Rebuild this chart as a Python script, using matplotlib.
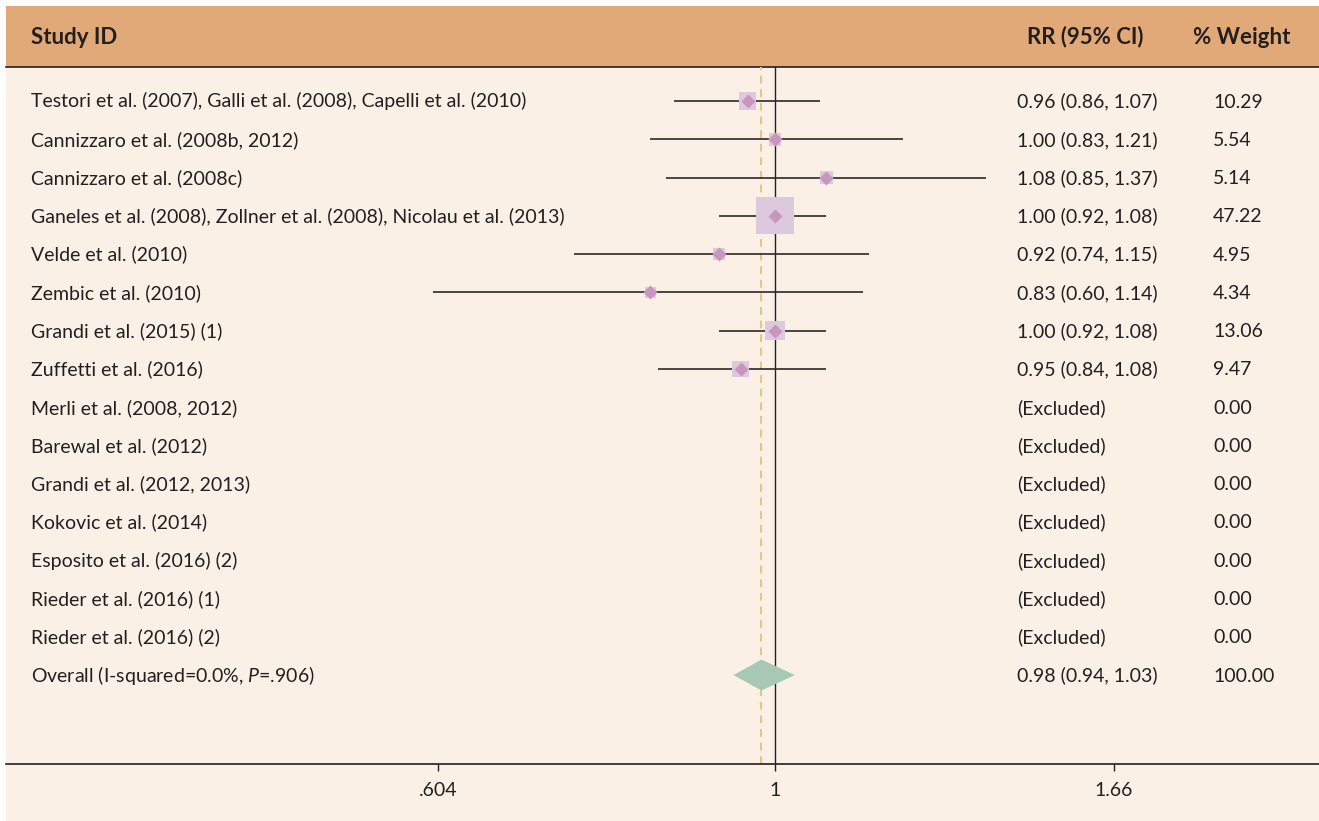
import numpy as np
import matplotlib
matplotlib.use("Agg")
import matplotlib.pyplot as plt
from matplotlib.patches import Rectangle
from matplotlib.lines import Line2D

# ---- data ----
studies = [
    "Testori et al. (2007), Galli et al. (2008), Capelli et al. (2010)",
    "Cannizzaro et al. (2008b, 2012)",
    "Cannizzaro et al. (2008c)",
    "Ganeles et al. (2008), Zollner et al. (2008), Nicolau et al. (2013)",
    "Velde et al. (2010)",
    "Zembic et al. (2010)",
    "Grandi et al. (2015) (1)",
    "Zuffetti et al. (2016)",
    "Merli et al. (2008, 2012)",
    "Barewal et al. (2012)",
    "Grandi et al. (2012, 2013)",
    "Kokovic et al. (2014)",
    "Esposito et al. (2016) (2)",
    "Rieder et al. (2016) (1)",
    "Rieder et al. (2016) (2)",
]
rr = [0.96, 1.00, 1.08, 1.00, 0.92, 0.83, 1.00, 0.95,
      None, None, None, None, None, None, None]
ci_low = [0.86, 0.83, 0.85, 0.92, 0.74, 0.60, 0.92, 0.84,
          None, None, None, None, None, None, None]
ci_high = [1.07, 1.21, 1.37, 1.08, 1.15, 1.14, 1.08, 1.08,
           None, None, None, None, None, None, None]
weights = [10.29, 5.54, 5.14, 47.22, 4.95, 4.34, 13.06, 9.47,
           0.00, 0.00, 0.00, 0.00, 0.00, 0.00, 0.00]

overall_label = "Overall (I-squared=0.0%, $\\mathit{P}$=.906)"
overall_rr, overall_low, overall_high, overall_weight = 0.98, 0.94, 1.03, 100.00

tick_values = [0.604, 1.0, 1.66]
tick_labels = [".604", "1", "1.66"]

# ---- style ----
FONT = "Lato"
plt.rcParams["font.family"] = [FONT, "DejaVu Sans"]
plt.rcParams["mathtext.fontset"] = "custom"
plt.rcParams["mathtext.rm"] = FONT
plt.rcParams["mathtext.it"] = FONT + ":italic"

TEXT = "#231f20"
HEADER = "#e2a978"
PANEL = "#faf0e6"
BOX = "#dec8dd"
POINT = "#c896bc"
POOLED = "#a6c8b4"
REFDASH = "#ebc477"
CI = "#2b2829"

W, H = 1319, 821
fig = plt.figure(figsize=(W / 100, H / 100), dpi=100, facecolor="white")

def fx(px):
    return px / W

def fy(py):
    return 1 - py / H

# panel and header band (drawn beneath the axes)
fig.patches.append(Rectangle((fx(6), 0), 1 - fx(6), fy(67), transform=fig.transFigure,
                             facecolor=PANEL, edgecolor="none", zorder=-2))
fig.patches.append(Rectangle((fx(6), fy(67)), 1 - fx(6), fy(6) - fy(67),
                             transform=fig.transFigure, facecolor=HEADER,
                             edgecolor="none", zorder=-2))
fig.lines.append(Line2D([fx(6), 1], [fy(67), fy(67)], transform=fig.transFigure,
                        color=TEXT, lw=1.2, zorder=-1))

# plotting axes (log-scaled ratio axis)
ax = fig.add_axes([fx(6), fy(764), 1 - fx(6), fy(67) - fy(764)])
ax.set_zorder(1)
ax.patch.set_alpha(0)
ax.set_xscale("log")
px_per_ln = 669.0
ax.set_xlim(np.exp((6 - 775) / px_per_ln), np.exp((W - 775) / px_per_ln))
row_px = 38.27
ax.set_ylim((764 - 101) / row_px, (67 - 101) / row_px)

for s in ("top", "left", "right"):
    ax.spines[s].set_visible(False)
ax.spines["bottom"].set_color(TEXT)
ax.spines["bottom"].set_linewidth(1.2)
ax.set_yticks([])
ax.xaxis.set_minor_locator(matplotlib.ticker.NullLocator())
ax.set_xticks(tick_values)
ax.set_xticklabels(tick_labels)
ax.tick_params(axis="x", direction="out", length=5, width=1, color=TEXT,
               labelcolor=TEXT, labelsize=14, pad=8)

# reference lines
ax.axvline(1.0, color=TEXT, lw=1.0, zorder=1)
ax.axvline(overall_rr, color=REFDASH, lw=1.4, ls=(0, (4, 3)), zorder=1)

ys = np.arange(len(studies))
k = 3.9  # marker side in points per sqrt(weight)
for y, r, lo, hi, w in zip(ys, rr, ci_low, ci_high, weights):
    if r is None:
        continue
    ax.plot([lo, hi], [y, y], color=CI, lw=1.2, zorder=2, solid_capstyle="butt")
    ax.scatter([r], [y], s=(k ** 2) * w, marker="s", color=BOX, edgecolors="none", zorder=3)
    ax.plot([r], [y], marker="D", ms=7, color=POINT, mec="none", zorder=4)

# pooled estimate diamond
y_ov = len(studies)
half_h = 0.405
ax.fill([overall_low, overall_rr, overall_high, overall_rr],
        [y_ov, y_ov - half_h, y_ov, y_ov + half_h],
        color=POOLED, edgecolor="none", zorder=4)

# text columns: baselines sit a fixed distance below each row centre
ytr = ax.get_yaxis_transform()
x_label = (31 - 6) / (W - 6)
x_rr = (1017 - 6) / (W - 6)
x_wt = (1213 - 6) / (W - 6)
fs = 14
base = 6.5 / row_px

def fmt_ci(r, lo, hi):
    return f"{r:.2f} ({lo:.2f}, {hi:.2f})"

def row_text(x, y, s):
    ax.text(x, y + base, s, transform=ytr, ha="left", va="baseline",
            fontsize=fs, color=TEXT)

for y, name, r, lo, hi, w in zip(ys, studies, rr, ci_low, ci_high, weights):
    row_text(x_label, y, name)
    row_text(x_rr, y, "(Excluded)" if r is None else fmt_ci(r, lo, hi))
    row_text(x_wt, y, f"{w:.2f}")

row_text(x_label, y_ov, overall_label)
row_text(x_rr, y_ov, fmt_ci(overall_rr, overall_low, overall_high))
row_text(x_wt, y_ov, f"{overall_weight:.2f}")

# header row
hy = fy(43.5)
hfs = 16
fig.text(fx(31), hy, "Study ID", ha="left", va="baseline", fontsize=hfs,
         fontweight="bold", color=TEXT)
fig.text(fx(1085), hy, "RR (95% CI)", ha="center", va="baseline", fontsize=hfs,
         fontweight="bold", color=TEXT)
fig.text(fx(1242), hy, "% Weight", ha="center", va="baseline", fontsize=hfs,
         fontweight="bold", color=TEXT)

fig.savefig("out.png", dpi=100, facecolor="white")
